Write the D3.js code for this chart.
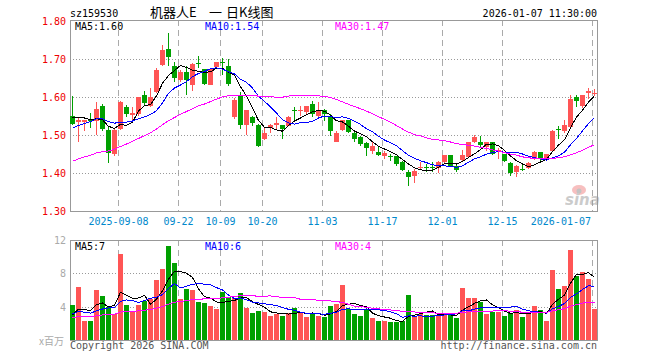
<!DOCTYPE html>
<html><head>
<meta charset="UTF-8">
<title>sz159530 - 日K线图</title>
<script src="https://d3js.org/d3.v7.min.js"></script>
<style>
  body { margin: 0; background: #fff; }
  text { font-family: "DejaVu Sans Mono", monospace; font-size: 10px; }
  .frame { stroke: #999; stroke-width: 1px; shape-rendering: crispEdges; }
  .vgrid { stroke: #aaa; stroke-width: 1px; stroke-dasharray: 6,4; shape-rendering: crispEdges; }
  .hgrid { stroke: #999; stroke-width: 1px; stroke-dasharray: 1,2; shape-rendering: crispEdges; }
  .ma { fill: none; stroke-width: 1px; shape-rendering: crispEdges; }
</style>
</head>
<body>
<script>

// trading days shown (88 bars)
var dates = [
  "2025-08-27","2025-08-28","2025-08-29",
  "2025-09-01","2025-09-02","2025-09-03","2025-09-04","2025-09-05",
  "2025-09-08","2025-09-09","2025-09-10","2025-09-11","2025-09-12",
  "2025-09-15","2025-09-16","2025-09-17","2025-09-18","2025-09-19",
  "2025-09-22","2025-09-23","2025-09-24","2025-09-25","2025-09-26",
  "2025-09-29","2025-09-30",
  "2025-10-09","2025-10-10",
  "2025-10-13","2025-10-14","2025-10-15","2025-10-16","2025-10-17",
  "2025-10-20","2025-10-21","2025-10-22","2025-10-23","2025-10-24",
  "2025-10-27","2025-10-28","2025-10-29","2025-10-30","2025-10-31",
  "2025-11-03","2025-11-04","2025-11-05","2025-11-06","2025-11-07",
  "2025-11-10","2025-11-11","2025-11-12","2025-11-13","2025-11-14",
  "2025-11-17","2025-11-18","2025-11-19","2025-11-20","2025-11-21",
  "2025-11-24","2025-11-25","2025-11-26","2025-11-27","2025-11-28",
  "2025-12-01","2025-12-02","2025-12-03","2025-12-04","2025-12-05",
  "2025-12-08","2025-12-09","2025-12-10","2025-12-11","2025-12-12",
  "2025-12-15","2025-12-16","2025-12-17","2025-12-18","2025-12-19",
  "2025-12-22","2025-12-23","2025-12-24","2025-12-25","2025-12-26",
  "2025-12-29","2025-12-30","2025-12-31",
  "2026-01-05","2026-01-06","2026-01-07"
];

var open = [
  1.551,1.535,1.535,1.539,1.536,1.577,1.514,1.450,1.516,1.574,
  1.553,1.556,1.606,1.577,1.613,1.683,1.725,1.682,1.646,1.667,
  1.632,1.690,1.674,1.632,1.678,1.691,1.682,1.547,1.602,1.527,
  1.547,1.527,1.489,1.518,1.527,1.527,1.525,1.565,1.563,1.560,
  1.582,1.551,1.567,1.551,1.482,1.512,1.539,1.504,1.496,1.479,
  1.457,1.456,1.444,1.446,1.444,1.430,1.402,1.391,1.414,1.416,
  1.416,1.412,1.429,1.447,1.419,1.433,1.442,1.482,1.482,1.468,
  1.482,1.457,1.450,1.426,1.402,1.411,1.413,1.439,1.456,1.435,
  1.457,1.516,1.510,1.521,1.601,1.577,1.611,1.610
];
var high = [
  1.602,1.545,1.540,1.558,1.588,1.582,1.523,1.516,1.589,1.580,
  1.575,1.601,1.617,1.624,1.676,1.738,1.768,1.691,1.672,1.681,
  1.689,1.707,1.675,1.675,1.692,1.703,1.700,1.597,1.612,1.567,
  1.549,1.529,1.518,1.529,1.547,1.527,1.551,1.574,1.577,1.577,
  1.590,1.586,1.569,1.554,1.510,1.540,1.540,1.514,1.498,1.481,
  1.483,1.468,1.458,1.449,1.446,1.432,1.407,1.411,1.428,1.425,
  1.428,1.431,1.447,1.447,1.426,1.461,1.482,1.500,1.498,1.481,
  1.482,1.466,1.450,1.430,1.422,1.426,1.430,1.458,1.456,1.451,
  1.514,1.523,1.540,1.604,1.604,1.606,1.623,1.621
];
var low = [
  1.527,1.481,1.510,1.518,1.501,1.511,1.426,1.446,1.512,1.547,
  1.540,1.551,1.580,1.575,1.611,1.681,1.681,1.639,1.639,1.606,
  1.617,1.676,1.632,1.632,1.676,1.659,1.628,1.542,1.517,1.501,
  1.523,1.468,1.486,1.504,1.514,1.490,1.523,1.539,1.549,1.554,
  1.547,1.547,1.536,1.498,1.481,1.510,1.505,1.481,1.470,1.446,
  1.451,1.446,1.437,1.432,1.419,1.406,1.365,1.374,1.411,1.402,
  1.402,1.400,1.426,1.418,1.402,1.431,1.440,1.479,1.468,1.457,
  1.448,1.437,1.428,1.393,1.389,1.404,1.411,1.435,1.426,1.433,
  1.454,1.489,1.504,1.518,1.575,1.571,1.596,1.602
];
var close = [
  1.529,1.540,1.539,1.536,1.569,1.517,1.453,1.512,1.588,1.556,
  1.558,1.601,1.584,1.600,1.672,1.723,1.704,1.649,1.667,1.646,
  1.688,1.688,1.635,1.675,1.692,1.689,1.635,1.593,1.527,1.567,
  1.532,1.472,1.504,1.526,1.532,1.516,1.547,1.563,1.565,1.577,
  1.554,1.564,1.554,1.511,1.504,1.539,1.507,1.490,1.477,1.465,
  1.472,1.448,1.453,1.442,1.425,1.409,1.389,1.404,1.416,1.414,
  1.414,1.429,1.447,1.419,1.409,1.447,1.482,1.495,1.473,1.481,
  1.451,1.461,1.431,1.400,1.419,1.407,1.426,1.456,1.437,1.451,
  1.511,1.512,1.526,1.596,1.589,1.604,1.617,1.611
];
// volume in millions (x百万)
var volume = [
  4.2,6.36,2.28,2.28,6.0,5.28,4.0,3.12,10.3,4.2,
  3.4,4.2,4.7,4.9,7.2,8.5,11.3,9.24,4.9,6.1,
  6.0,4.56,4.44,4.08,3.72,5.76,5.16,5.04,5.64,3.88,
  3.24,3.52,3.36,2.92,3.16,2.92,3.2,3.84,3.28,2.76,
  3.12,2.92,2.76,4.08,4.32,6.6,3.72,3.12,2.88,3.72,
  2.64,2.28,2.28,2.16,2.16,2.28,5.4,2.88,3.12,3.0,
  3.0,3.0,3.0,3.0,2.64,6.24,5.04,5.04,4.56,3.12,
  3.36,3.36,2.88,3.28,3.6,2.76,3.12,4.08,3.6,2.28,
  8.4,6.12,6.48,10.8,7.68,8.16,7.32,3.72
];

// the 29 sessions before the window, estimated from where the MA lines start
var preClose = [
  1.36,1.38,1.40,1.39,1.41,1.40,
  1.38,1.37,1.36,1.35,1.37,1.36,1.38,1.37,1.39,1.38,1.40,1.41,1.43,1.46,
  1.47,1.49,1.48,1.50,1.515,
  1.53,1.55,1.56,1.556
];
var preVolume = [
  2.2,2.6,2.4,2.8,2.3,2.5,2.1,2.6,2.4,2.7,2.2,2.5,2.3,2.6,2.4,2.5,2.3,2.7,2.6,2.5,
  3.0,3.6,3.2,3.4,3.0,
  2.8,2.6,2.9,2.5
];

var priceTicks = [1.30, 1.40, 1.50, 1.60, 1.70, 1.80];
var volumeTicks = [4, 8, 12];
var tickDates = ["2025-09-08","2025-09-22","2025-10-09","2025-10-20","2025-11-03",
                 "2025-11-17","2025-12-01","2025-12-15","2026-01-07"];
var tickLabels = ["2025-09-08","09-22","10-09","10-20","11-03","11-17","12-01","12-15","2026-01-07"];

var maPeriods = [5, 10, 30];
var maColors = ["#000", "#0000ff", "#ff00ff"];

var red = "#ff5555", green = "#00a000";

var width = 660, height = 360;
var left = 70, right = 597;
var top1 = 20, bottom1 = 211;
var top2 = 240, bottom2 = 340;

var svg = d3.select("body").append("svg")
    .attr("width", width)
    .attr("height", height);

var x = d3.scaleBand().domain(dates).range([left, right]).paddingInner(1/6).paddingOuter(0);
var yP = d3.scaleLinear().domain([1.30, 1.80]).range([bottom1, bottom1 - 190]);
var yV = d3.scaleLinear().domain([0, 12]).range([bottom2, top2]);

var bars = dates.map(function(d, i) {
  return {date: d, o: open[i], h: high[i], l: low[i], c: close[i], v: volume[i]};
});

function movingAvg(pre, vals, n) {
  var all = pre.concat(vals);
  return vals.map(function(v, i) {
    var k = pre.length + i;
    return d3.mean(all.slice(k - n + 1, k + 1));
  });
}
function floorTo(v, d) { var p = Math.pow(10, d); return Math.floor(v * p + 1e-9) / p; }

// gridlines
[[top1, bottom1], [top2, bottom2]].forEach(function(r) {
  svg.append("g").selectAll("line").data(tickDates).enter().append("line")
    .attr("class", "vgrid")
    .attr("x1", function(d) { return Math.round(x(d)) + 0.5; })
    .attr("x2", function(d) { return Math.round(x(d)) + 0.5; })
    .attr("y1", r[0]).attr("y2", r[1]);
});
svg.append("g").selectAll("line").data(priceTicks.slice(1, -1)).enter().append("line")
  .attr("class", "hgrid")
  .attr("x1", left).attr("x2", right)
  .attr("y1", function(d) { return Math.round(yP(d)) + 0.5; })
  .attr("y2", function(d) { return Math.round(yP(d)) + 0.5; });
svg.append("g").selectAll("line").data(volumeTicks.slice(0, -1)).enter().append("line")
  .attr("class", "hgrid")
  .attr("x1", left).attr("x2", right)
  .attr("y1", function(d) { return Math.round(yV(d)) + 0.5; })
  .attr("y2", function(d) { return Math.round(yV(d)) + 0.5; });

// frames
[[top1, bottom1], [top2, bottom2]].forEach(function(r) {
  svg.append("rect").attr("class", "frame").attr("fill", "none")
    .attr("x", left + 0.5).attr("y", r[0] + 0.5)
    .attr("width", right - left).attr("height", r[1] - r[0]);
});

// watermark
var wm = svg.append("g").attr("opacity", 0.5);
wm.append("ellipse").attr("cx", 579).attr("cy", 190).attr("rx", 7).attr("ry", 5).attr("fill", "#f08080");
wm.append("circle").attr("cx", 579).attr("cy", 191).attr("r", 2.5).attr("fill", "#888");
wm.append("text").attr("x", 565).attr("y", 205)
  .style("font-family", "DejaVu Sans").style("font-size", "15px")
  .style("font-weight", "bold").style("font-style", "italic")
  .attr("fill", "#999").text("sina");

// candles
var candle = svg.append("g").selectAll("g").data(bars).enter().append("g")
  .attr("fill", function(d) { return d.c >= d.o ? red : green; });
candle.append("rect")
  .attr("x", function(d) { return x(d.date) + 2; })
  .attr("width", 1)
  .attr("y", function(d) { return Math.round(yP(d.h)); })
  .attr("height", function(d) { return Math.max(1, Math.round(yP(d.l)) - Math.round(yP(d.h))); });
candle.append("rect")
  .attr("x", function(d) { return x(d.date); })
  .attr("width", x.bandwidth())
  .attr("y", function(d) { return Math.round(yP(Math.max(d.o, d.c))); })
  .attr("height", function(d) { return Math.max(1, Math.round(yP(Math.min(d.o, d.c))) - Math.round(yP(Math.max(d.o, d.c)))); });

// volume bars
svg.append("g").selectAll("rect").data(bars).enter().append("rect")
  .attr("fill", function(d) { return d.c >= d.o ? red : green; })
  .attr("x", function(d) { return x(d.date); })
  .attr("width", x.bandwidth())
  .attr("y", function(d) { return Math.round(yV(d.v)); })
  .attr("height", function(d) { return bottom2 - Math.round(yV(d.v)); });

// moving averages
var cx = function(i) { return x(dates[i]) + x.bandwidth() / 2; };
var priceMA = maPeriods.map(function(n) { return movingAvg(preClose, close, n); });
var volMA = maPeriods.map(function(n) { return movingAvg(preVolume, volume, n); });

priceMA.forEach(function(ma, k) {
  svg.append("path").datum(ma).attr("class", "ma").attr("stroke", maColors[k])
    .attr("d", d3.line().x(function(d, i) { return cx(i); }).y(function(d) { return yP(d); }));
});
volMA.forEach(function(ma, k) {
  svg.append("path").datum(ma).attr("class", "ma").attr("stroke", maColors[k])
    .attr("d", d3.line().x(function(d, i) { return cx(i); }).y(function(d) { return yV(d); }));
});

// MA legends
var legendX = [75, 205, 335];
maPeriods.forEach(function(n, k) {
  var last = priceMA[k][priceMA[k].length - 1];
  svg.append("text").attr("x", legendX[k]).attr("y", 30).attr("fill", maColors[k])
    .text("MA" + n + ":" + floorTo(last, 2).toFixed(2));
  var lastV = volMA[k][volMA[k].length - 1];
  svg.append("text").attr("x", legendX[k]).attr("y", 250).attr("fill", maColors[k])
    .text("MA" + n + ":" + Math.floor(lastV));
});

// axes labels
svg.append("g").selectAll("text").data(priceTicks).enter().append("text")
  .attr("x", 66).attr("y", function(d) { return yP(d) + 4; })
  .attr("text-anchor", "end").attr("fill", "#ee0000")
  .text(function(d) { return d.toFixed(2); });
svg.append("g").selectAll("text").data(volumeTicks).enter().append("text")
  .attr("x", 66).attr("y", function(d) { return yV(d) + 4; })
  .attr("text-anchor", "end").attr("fill", "#aaa")
  .text(function(d) { return d; });

svg.append("g").selectAll("text").data(tickDates).enter().append("text")
  .attr("y", 225).attr("fill", "#0088cc")
  .attr("text-anchor", "middle")
  .attr("x", function(d) { return x(d) + 0.5; })
  .text(function(d, i) { return tickLabels[i]; })
  .each(function() {
    var b = this.getBBox();
    if (b.x + b.width > 591) {
      d3.select(this).attr("text-anchor", "end").attr("x", 591);
    }
  });

// header & footer
svg.append("text").attr("x", 70).attr("y", 17).attr("fill", "#000").text("sz159530");
var title = svg.append("text").attr("y", 17).attr("fill", "#000")
  .style("font-family", "'Noto Sans CJK SC'").style("font-size", "13px");
title.append("tspan").attr("x", 150).text("机器人E");
title.append("tspan").attr("x", 209).text("一");
title.append("tspan").attr("x", 226).text("日K线图");
svg.append("text").attr("x", 597).attr("y", 17).attr("text-anchor", "end").attr("fill", "#000")
  .text("2026-01-07 11:30:00");
svg.append("text").attr("x", 64).attr("y", 345).attr("text-anchor", "end").attr("fill", "#aaa")
  .style("font-family", "'Noto Sans CJK SC'").text("x百万");
svg.append("text").attr("x", 70).attr("y", 349).attr("fill", "#555").text("Copyright 2026 SINA.COM");
svg.append("text").attr("x", 597).attr("y", 349).attr("text-anchor", "end").attr("fill", "#555")
  .text("http://finance.sina.com.cn");

</script>
</body>
</html>
